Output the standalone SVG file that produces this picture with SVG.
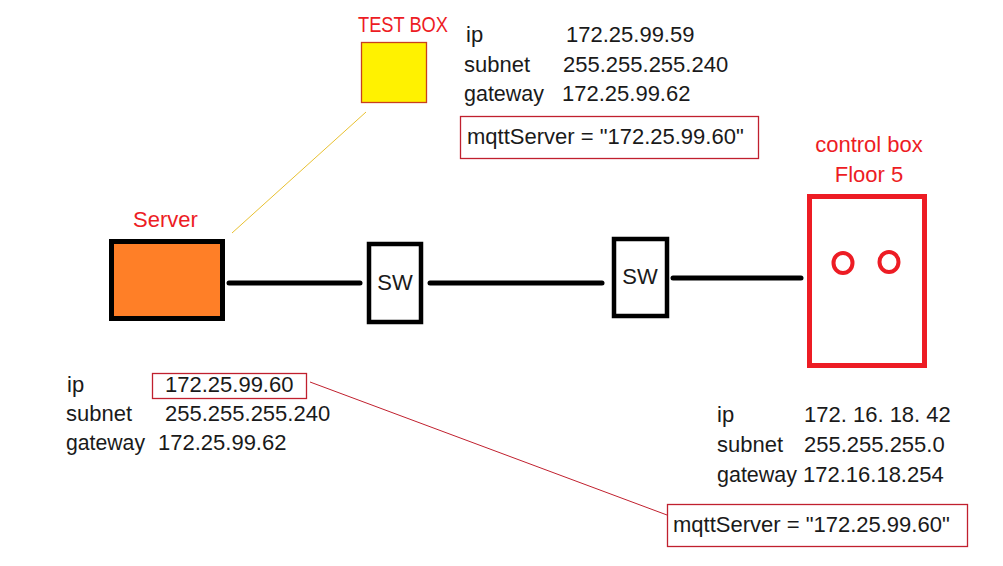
<svg xmlns="http://www.w3.org/2000/svg" width="1003" height="566" viewBox="0 0 1003 566">
<style>
text{font-family:"Liberation Sans",Arial,sans-serif;font-size:22px;fill:#1a1a1a}
.red{fill:#ED1C24}
.thick{stroke:#000;stroke-width:5;stroke-linecap:round;fill:none}
.box{fill:#fff;stroke:#000;stroke-width:4.5}
.note{fill:none;stroke:#C0202E;stroke-width:1.3}
</style>
<rect width="1003" height="566" fill="#fff"/>
<g id="connectors">
<line x1="232" y1="233" x2="366" y2="112" stroke="#E8C030" stroke-width="1"/>
<line x1="229" y1="283" x2="360" y2="283" class="thick"/>
<line x1="430" y1="283" x2="602" y2="283" class="thick"/>
<line x1="673" y1="278" x2="801" y2="278" class="thick"/>
<line x1="310" y1="382" x2="667" y2="515" stroke="#C0202E" stroke-width="1"/>
</g>
<g id="testbox">
<text x="358" y="32" class="red" font-size="20" textLength="90" lengthAdjust="spacingAndGlyphs">TEST BOX</text>
<rect x="361.5" y="42.5" width="65" height="60" fill="#FFF200" stroke="#C8401E" stroke-width="1.3"/>
</g>
<g id="testbox-info">
<text x="466" y="42">ip</text>
<text x="566" y="42">172.25.99.59</text>
<text x="464" y="72">subnet</text>
<text x="563" y="72">255.255.255.240</text>
<text x="464" y="101" textLength="80" lengthAdjust="spacingAndGlyphs">gateway</text>
<text x="562" y="101">172.25.99.62</text>
<rect x="460.5" y="116.5" width="298" height="42" class="note"/>
<text x="467" y="144">mqttServer = "172.25.99.60"</text>
</g>
<g id="server">
<text x="133" y="227" class="red">Server</text>
<rect x="111.5" y="241.5" width="111" height="77" fill="#FF7F27" stroke="#000" stroke-width="5"/>
</g>
<g id="sw1">
<rect x="369" y="244" width="52" height="78" class="box"/>
<text x="395" y="290" text-anchor="middle" font-size="19">SW</text>
</g>
<g id="sw2">
<rect x="614" y="239" width="53" height="77" class="box"/>
<text x="640" y="284" text-anchor="middle" font-size="19">SW</text>
</g>
<g id="controlbox">
<text x="869" y="152" class="red" text-anchor="middle">control box</text>
<text x="869" y="182" class="red" text-anchor="middle">Floor 5</text>
<rect x="809.5" y="196.5" width="115" height="169" fill="none" stroke="#ED1C24" stroke-width="5"/>
<ellipse cx="843" cy="263" rx="9.5" ry="10" fill="none" stroke="#ED1C24" stroke-width="4"/>
<ellipse cx="889" cy="262" rx="9.5" ry="10" fill="none" stroke="#ED1C24" stroke-width="4"/>
</g>
<g id="server-info">
<rect x="152.5" y="373.5" width="154" height="25" class="note"/>
<text x="67" y="392">ip</text>
<text x="165" y="392">172.25.99.60</text>
<text x="66" y="421">subnet</text>
<text x="165" y="421">255.255.255.240</text>
<text x="66" y="450" textLength="79" lengthAdjust="spacingAndGlyphs">gateway</text>
<text x="158" y="450">172.25.99.62</text>
</g>
<g id="controlbox-info">
<text x="717" y="422">ip</text>
<text x="804" y="422">172. 16. 18. 42</text>
<text x="717" y="452">subnet</text>
<text x="804" y="452">255.255.255.0</text>
<text x="717" y="482" textLength="80" lengthAdjust="spacingAndGlyphs">gateway</text>
<text x="803" y="482">172.16.18.254</text>
<rect x="667.5" y="504.5" width="300" height="42" class="note"/>
<text x="673" y="532">mqttServer = "172.25.99.60"</text>
</g>
</svg>
